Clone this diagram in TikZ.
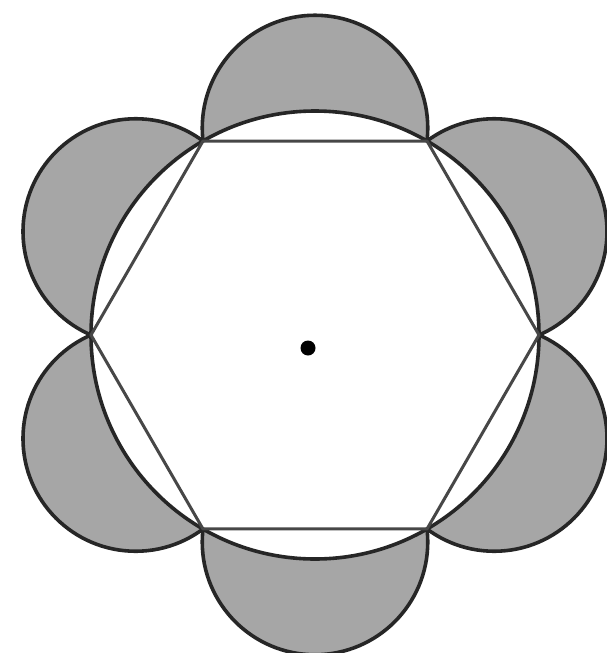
\documentclass[tikz,border=0pt]{standalone}
\usetikzlibrary{calc}
\begin{document}
\begin{tikzpicture}[x=1pt,y=-1pt]
\useasboundingbox[fill=white] (0,0) rectangle (606,653);
\def\R{224}
\def\d{13}
\colorlet{lune}{black!35}
\tikzset{outline/.style={draw=black!85, line width=3.6pt},
         hexline/.style={draw=black!72, line width=3pt, line join=round}}
\coordinate (O) at (315,335);
\coordinate (D) at (308,348);
\pgfmathsetmacro{\rr}{sqrt((\R/2)^2+\d^2)}
\foreach \a in {0,60,...,300} \coordinate (V\a) at ($(O)+(\a:\R)$);
\foreach \a in {30,90,...,330} \coordinate (M\a) at ($(O)+(\a:{\R*cos(30)+\d})$);
% lunes outside the circumcircle
\begin{scope}[even odd rule]
  \clip (-20,-20) rectangle (640,680) (O) circle [radius=\R pt];
  \foreach \a in {30,90,...,330} \fill[lune] (M\a) circle [radius=\rr pt];
  \foreach \a in {30,90,...,330} \draw[outline] (M\a) circle [radius=\rr pt];
\end{scope}
% circumcircle
\draw[outline] (O) circle [radius=\R pt];
% hexagon
\draw[hexline] (V0) -- (V60) -- (V120) -- (V180) -- (V240) -- (V300) -- cycle;
% centre dot
\fill[black] (D) circle [radius=7.5pt];
\end{tikzpicture}
\end{document}
